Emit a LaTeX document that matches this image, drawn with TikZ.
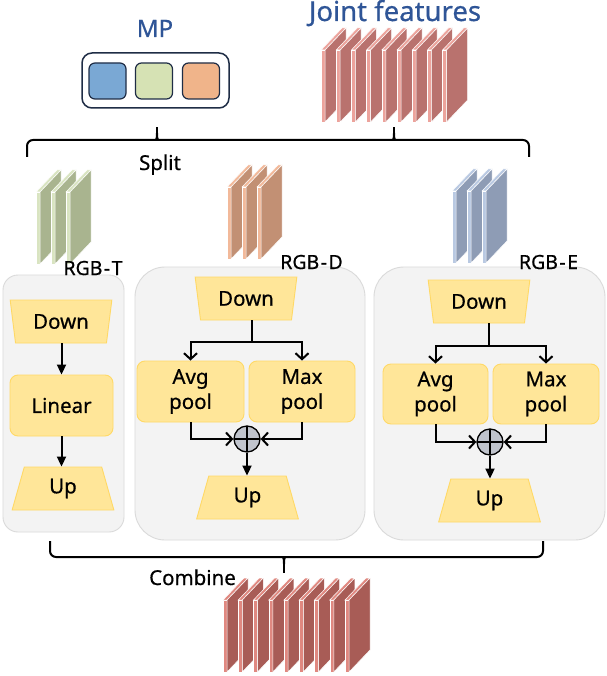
\documentclass[tikz,border=0pt]{standalone}
\usepackage{fontspec}
\setmainfont{Noto Sans}[FakeBold=0.6]
\usetikzlibrary{shapes.geometric,arrows.meta,calc}
\definecolor{mpblue}{RGB}{47,85,151}
\definecolor{mpline}{RGB}{31,45,70}
\definecolor{sqblue}{RGB}{122,168,212}
\definecolor{sqgreen}{RGB}{214,226,180}
\definecolor{sqorange}{RGB}{240,180,138}
\definecolor{yfill}{RGB}{255,230,153}
\definecolor{yline}{RGB}{255,217,102}
\definecolor{panelfill}{RGB}{243,243,243}
\definecolor{panelline}{RGB}{218,218,218}
\definecolor{plusfill}{RGB}{192,196,205}
\definecolor{jfront}{RGB}{236,163,156}
\definecolor{jside}{RGB}{185,114,110}
\definecolor{cfront}{RGB}{224,136,128}
\definecolor{cside}{RGB}{168,92,86}
\definecolor{gfront}{RGB}{217,228,193}
\definecolor{gside}{RGB}{169,180,143}
\definecolor{ofront}{RGB}{242,185,154}
\definecolor{oside}{RGB}{194,144,116}
\definecolor{bfront}{RGB}{185,201,226}
\definecolor{bside}{RGB}{142,156,181}
\newcommand{\lblfont}{\fontsize{20.5}{25}\selectfont}
\newcommand{\rgbfont}{\fontsize{19.5}{22}\selectfont}
% one plate: x, ybottom, front colour, side colour
\newcommand{\mkslab}[4]{%
  \filldraw[fill=#3,draw=white,line width=0.5pt] ({#1},{#2}) -- ++(4,0) -- ++(0,-72) -- ++(-4,0) -- cycle;
  \filldraw[fill=#3,draw=white,line width=0.5pt] ({#1},{#2-72}) -- ++(4,0) -- ++(21,-22) -- ++(-4,0) -- cycle;
  \filldraw[fill=#4,draw=white,line width=0.5pt] ({#1+4},{#2}) -- ++(21,-22) -- ++(0,-72) -- ++(-21,22) -- cycle;
}
% stack: n, x0, dx, ybottom, front, side
\newcommand{\mkstack}[6]{%
  \foreach \i in {1,...,#1}{%
    \pgfmathsetmacro{\xx}{#2+(\i-1)*#3}%
    \mkslab{\xx}{#4}{#5}{#6}%
  }%
}
\tikzset{
  panel/.style={draw=panelline, fill=panelfill, line width=0.9pt, inner sep=0pt},
  trapbase/.style={trapezium, trapezium stretches=true, trapezium left angle=77.5,
    trapezium right angle=77.5, minimum width=102pt, minimum height=43pt, inner sep=0pt,
    fill=yfill, draw=yline, line width=0.9pt, font=\lblfont},
  trapdown/.style={trapbase, shape border rotate=180},
  trapup/.style={trapbase},
  ybox/.style={rounded corners=8pt, fill=yfill, draw=yline, line width=0.9pt,
    minimum height=61pt, inner sep=0pt, align=center, font=\lblfont},
  plusnode/.style={circle, minimum size=26pt, inner sep=0pt, fill=plusfill, draw=black,
    line width=1.3pt, path picture={
      \draw[line width=1.3pt] (path picture bounding box.north) -- (path picture bounding box.south)
        (path picture bounding box.west) -- (path picture bounding box.east);}},
  conn/.style={line width=2pt, draw=black},
  openarr/.style={conn, -{Straight Barb[length=6pt,width=13pt]}},
  fillarr/.style={conn, -{Triangle[length=10pt,width=9pt]}},
  brk/.style={line width=2pt, draw=black, rounded corners=6pt},
  sq/.style={draw=mpline, line width=1.2pt, rounded corners=6pt, minimum width=37pt,
    minimum height=36pt, inner sep=0pt},
  txt/.style={anchor=base, inner sep=0pt},
}
\begin{document}
\begin{tikzpicture}[x=1pt,y=-1pt]
\useasboundingbox (0,0) rectangle (606,676);
\fill[white] (0,0) rectangle (606,676);

% titles
\node[txt, text=mpblue, font=\fontsize{24}{28}\selectfont] (mptitle) at (155,37) {MP};
\node[txt, text=mpblue, font=\fontsize{27.5}{30}\selectfont] (jtitle) at (395,21) {Joint features};

% MP box
\node[draw=mpline, line width=1.5pt, rounded corners=10pt, minimum width=147pt,
  minimum height=55pt, inner sep=0pt] (mpbox) at (155.5,80.5) {};
\node[sq, fill=sqblue] (sq1) at (107.5,81) {};
\node[sq, fill=sqgreen] (sq2) at (154,81) {};
\node[sq, fill=sqorange] (sq3) at (201,81) {};

% joint feature stack
\mkstack{9}{321}{15.2}{122}{jfront}{jside}

% split bracket
\draw[brk] (27,157) -- (27,140) -- (529,140) -- (529,157);
\draw[line width=2pt] (157,140) -- (157,127);
\draw[line width=2pt] (394,140) -- (394,127);
\fill (151,140.5) .. controls (156,139.5) .. (156,133) -- (158,133) .. controls (158,139.5) .. (163,140.5) -- cycle;
\fill (388,140.5) .. controls (393,139.5) .. (393,133) -- (395,133) .. controls (395,139.5) .. (400,140.5) -- cycle;
\node[txt, font=\lblfont] (split) at (160,170) {Split};

% small stacks
\mkstack{3}{36}{15}{264}{gfront}{gside}
\mkstack{3}{227}{15}{259}{ofront}{oside}
\mkstack{3}{452}{15}{263}{bfront}{bside}

% panels
\node[panel, rounded corners=15pt, minimum width=121pt, minimum height=257pt] (panT) at (63.5,403.5) {};
\node[panel, rounded corners=30pt, minimum width=230pt, minimum height=273pt] (panD) at (250,403.5) {};
\node[panel, rounded corners=30pt, minimum width=231pt, minimum height=273pt] (panE) at (489.5,403.5) {};

\node[txt, font=\rgbfont] (labT) at (93,275) {RGB\kern1.5pt-\kern1.5pt T};
\node[txt, font=\rgbfont] (labD) at (311.5,269) {RGB\kern1.5pt-\kern1.5pt D};
\node[txt, font=\rgbfont] (labE) at (548.5,269) {RGB\kern1.5pt-\kern1.5pt E};

% RGB-T branch
\node[trapdown] (Tdown) at (61,321.5) {Down};
\node[ybox, minimum width=103pt] (Tlin) at (61.5,405.5) {Linear};
\node[trapup] (Tup) at (63,488.5) {Up};
\draw[fillarr] (Tdown.south -| Tlin.north) -- (Tlin.north);
\draw[fillarr] (Tlin.south) -- (Tlin.south |- Tup.north);

% RGB-D branch
\node[trapdown] (Ddown) at (246,298.5) {Down};
\node[ybox, minimum width=107pt] (Davg) at (190.5,391.5) {Avg\\pool};
\node[ybox, minimum width=106pt] (Dmax) at (302,391.5) {Max\\pool};
\node[plusnode] (Dplus) at (247,439) {};
\node[trapup] (Dup) at (247.5,497.5) {Up};
\coordinate (Dj) at (252,342);
\draw[conn] (Ddown.south -| Dj) -- (Dj);
\draw[openarr] (Dj) -| (Davg.north);
\draw[openarr] (Dj) -| (Dmax.north);
\draw[openarr] (Davg.south) |- (Dplus.west);
\draw[openarr] (Dmax.south) |- (Dplus.east);
\draw[fillarr] (Dplus.south) -- (Dplus.south |- Dup.north);

% RGB-E branch
\node[trapdown] (Edown) at (479,301.5) {Down};
\node[ybox, minimum width=105pt, minimum height=60pt] (Eavg) at (435.5,394) {Avg\\pool};
\node[ybox, minimum width=106pt, minimum height=60pt] (Emax) at (546,394) {Max\\pool};
\node[plusnode] (Eplus) at (490,442) {};
\node[trapup] (Eup) at (489.5,500.5) {Up};
\coordinate (Ej) at (489,346);
\draw[conn] (Edown.south -| Ej) -- (Ej);
\draw[openarr] (Ej) -| (Eavg.north);
\draw[openarr] (Ej) -| (Emax.north);
\draw[openarr] (Eavg.south) |- (Eplus.west);
\draw[openarr] (Emax.south) |- (Eplus.east);
\draw[fillarr] (Eplus.south) -- (Eplus.south |- Eup.north);

% combine bracket
\draw[brk] (50,541) -- (50,557) -- (543,557) -- (543,541);
\draw[line width=2pt] (284,557) -- (284,573);
\fill (278,556.5) .. controls (283,557.5) .. (283,564) -- (285,564) .. controls (285,557.5) .. (290,556.5) -- cycle;
\node[txt, font=\lblfont] (comb) at (192.5,585) {Combine};

% combined stack
\mkstack{9}{223}{15.25}{672}{cfront}{cside}
\end{tikzpicture}
\end{document}
